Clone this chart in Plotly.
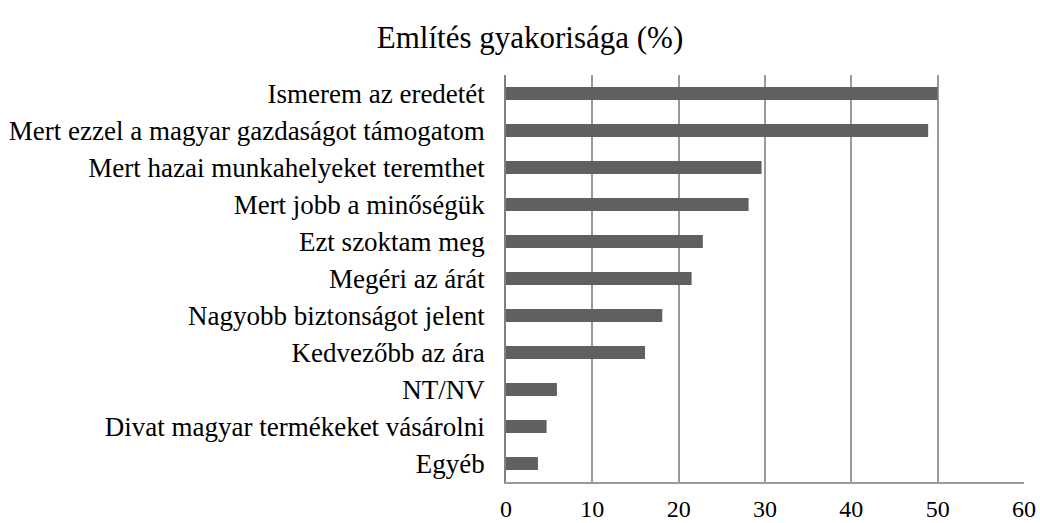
import plotly.graph_objects as go

categories = [
    "Ismerem az eredetét",
    "Mert ezzel a magyar gazdaságot támogatom",
    "Mert hazai munkahelyeket teremthet",
    "Mert jobb a minőségük",
    "Ezt szoktam meg",
    "Megéri az árát",
    "Nagyobb biztonságot jelent",
    "Kedvezőbb az ára",
    "NT/NV",
    "Divat magyar termékeket vásárolni",
    "Egyéb",
]
values = [50.0, 48.9, 29.6, 28.1, 22.8, 21.5, 18.1, 16.1, 5.9, 4.7, 3.7]
x_ticks = [0, 10, 20, 30, 40, 50, 60]

font_family = "Liberation Serif, Times New Roman, serif"

W, H = 1040, 523

fig = go.Figure(
    go.Bar(
        y=categories,
        x=values,
        orientation="h",
        width=0.35,
        marker=dict(color="#606060", line=dict(width=0)),
    )
)

fig.update_layout(
    width=W,
    height=H,
    paper_bgcolor="white",
    plot_bgcolor="white",
    margin=dict(l=506, r=W - 1024, t=75, b=H - 482, autoexpand=False),
    showlegend=False,
    font=dict(family=font_family, size=26, color="black"),
    title=dict(
        text="Említés gyakorisága (%)",
        x=530 / W,
        xref="container",
        xanchor="center",
        y=1 - 37 / H,
        yref="container",
        yanchor="middle",
        font=dict(family=font_family, size=31, color="black"),
    ),
)

fig.update_xaxes(
    range=[0, 60],
    tickvals=x_ticks,
    showgrid=True,
    gridcolor="#9a9a9a",
    gridwidth=1.5,
    zeroline=False,
    showline=True,
    linecolor="#9a9a9a",
    linewidth=1.5,
    ticks="",
    ticklabelstandoff=4,
    automargin=False,
    tickfont=dict(size=24),
)

fig.update_yaxes(
    categoryorder="array",
    categoryarray=categories[::-1],
    showgrid=False,
    zeroline=False,
    showline=True,
    linecolor="#808080",
    linewidth=1.5,
    ticks="",
    ticklabelstandoff=14,
    automargin=False,
    tickfont=dict(size=27),
)

fig.write_html(
    "out.html",
    config={"displayModeBar": False},
    post_script="document.body.style.margin='0';document.body.style.overflow='hidden';",
)
